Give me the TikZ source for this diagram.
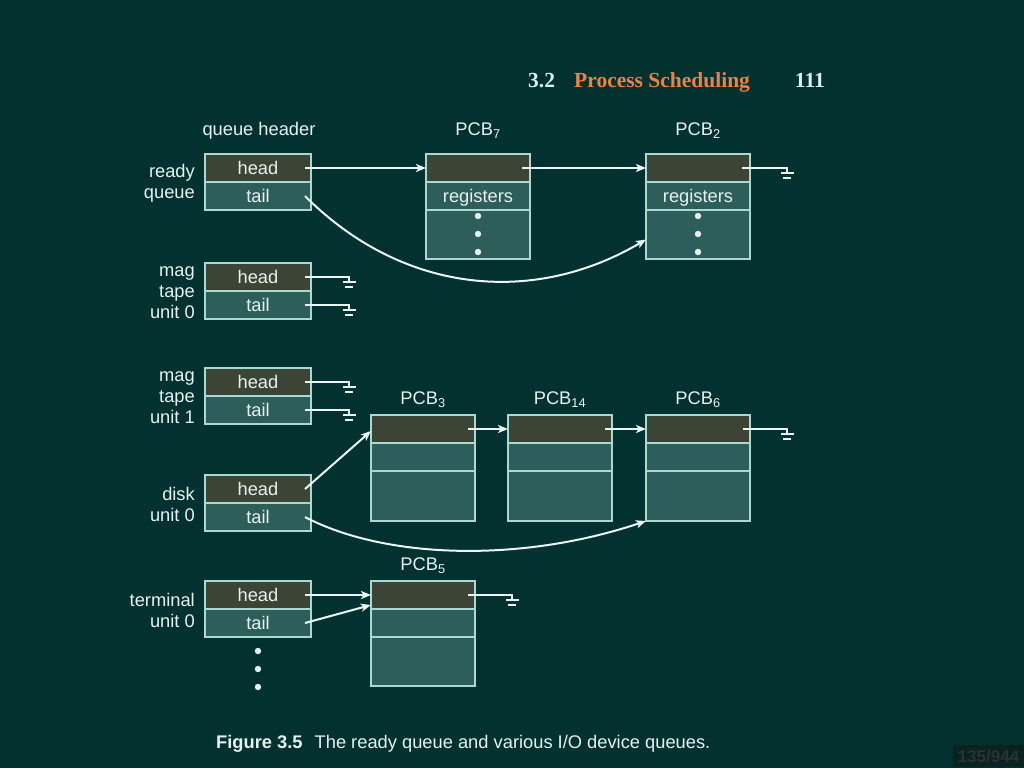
\documentclass[tikz,border=0pt]{standalone}
\usepackage{fontspec}
\setmainfont{Liberation Sans}
\newfontfamily\hdrfont{Liberation Serif}
\usetikzlibrary{arrows.meta,calc}
\definecolor{bgc}{HTML}{02312F}
\definecolor{headc}{HTML}{3C4535}
\definecolor{tailc}{HTML}{2E5E5A}
\definecolor{bordc}{HTML}{A9D9D1}
\definecolor{txtc}{HTML}{E4F2F0}
\definecolor{wirec}{HTML}{E8F6F4}
\definecolor{orangec}{HTML}{F2803E}
\definecolor{hdrtxtc}{HTML}{DDF0EE}
\definecolor{pgboxc}{HTML}{0A2321}
\definecolor{pgtxtc}{HTML}{283432}
\begin{document}
\begin{tikzpicture}[x=1pt,y=-1pt,
  cell/.style={draw=bordc, line width=1.7pt, minimum width=106pt, minimum height=28pt,
    inner sep=0pt, outer sep=0pt, text=txtc, font=\fontsize{18.3}{21}\selectfont, anchor=north west},
  headcell/.style={cell, fill=headc},
  tailcell/.style={cell, fill=tailc},
  pcbhead/.style={headcell, minimum width=104pt},
  pcbrow/.style={tailcell, minimum width=104pt},
  pcbrest/.style={tailcell, minimum width=104pt, minimum height=49pt},
  lbl/.style={text=txtc, font=\fontsize{18.3}{20.8}\selectfont, inner sep=0pt, align=right},
  wire/.style={draw=wirec, line width=2pt},
  link/.style={wire, -{Stealth[length=10pt,width=8pt,inset=2.5pt]}},
  gndline/.style={draw=wirec, line width=2pt},
  ground/.pic={\draw[gndline] (0,-1) -- (0,5) (-6.5,5) -- (6.5,5) (-4,10) -- (4,10);},
  hdr/.style={inner sep=0pt, font=\hdrfont\bfseries\fontsize{21.5}{24}\selectfont},
]
\fill[bgc] (0,0) rectangle (1024,768);

% page header
\node[hdr, text=hdrtxtc, anchor=base west] (sec) at (528,87) {3.2};
\node[hdr, text=orangec, anchor=base west] (title) at (574,87) {Process Scheduling};
\node[hdr, text=hdrtxtc, anchor=base east] (pgno) at (825,87) {111};

% queue headers
\node[headcell] (rqh) at (205,154) {head};
\node[tailcell] (rqt) at (205,182) {tail};
\node[headcell] (m0h) at (205,263) {head};
\node[tailcell] (m0t) at (205,291) {tail};
\node[headcell] (m1h) at (205,368) {head};
\node[tailcell] (m1t) at (205,396) {tail};
\node[headcell] (dh) at (205,475) {head};
\node[tailcell] (dt) at (205,503) {tail};
\node[headcell] (th) at (205,581) {head};
\node[tailcell] (tt) at (205,609) {tail};

\node[lbl] (qhdr) at ($(rqh.north)+(1,-23)$) {queue header};
\node[lbl, anchor=east] (lrq) at ($(rqh.south west)+(-10,1.5)$) {ready\\queue};
\node[lbl, anchor=east] (lm0) at ($(m0h.south west)+(-10,1.5)$) {mag\\tape\\unit 0};
\node[lbl, anchor=east] (lm1) at ($(m1h.south west)+(-10,1.5)$) {mag\\tape\\unit 1};
\node[lbl, anchor=east] (ld) at ($(dh.south west)+(-10,1.5)$) {disk\\unit 0};
\node[lbl, anchor=east] (lt) at ($(th.south west)+(-10,1.5)$) {terminal\\unit 0};

% PCBs
\node[pcbhead] (p7a) at (426,154) {};
\node[pcbrow, text depth=0pt] (p7b) at (426,182) {registers};
\node[pcbrest] (p7c) at (426,210) {};
\node[pcbhead] (p2a) at (646,154) {};
\node[pcbrow, text depth=0pt] (p2b) at (646,182) {registers};
\node[pcbrest] (p2c) at (646,210) {};
\node[pcbhead] (p3a) at (371,415) {};
\node[pcbrow] (p3b) at (371,443) {};
\node[pcbrest, minimum height=50pt] (p3c) at (371,471) {};
\node[pcbhead] (p14a) at (508,415) {};
\node[pcbrow] (p14b) at (508,443) {};
\node[pcbrest, minimum height=50pt] (p14c) at (508,471) {};
\node[pcbhead] (p6a) at (646,415) {};
\node[pcbrow] (p6b) at (646,443) {};
\node[pcbrest, minimum height=50pt] (p6c) at (646,471) {};
\node[pcbhead] (p5a) at (371,581) {};
\node[pcbrow] (p5b) at (371,609) {};
\node[pcbrest] (p5c) at (371,637) {};

\node[lbl] (l7) at ($(p7a.north)+(0,-23)$) {PCB\textsubscript{7}};
\node[lbl] (l2) at ($(p2a.north)+(0,-23)$) {PCB\textsubscript{2}};
\node[lbl] (l3) at ($(p3a.north)+(0,-15)$) {PCB\textsubscript{3}};
\node[lbl] (l14) at ($(p14a.north)+(0,-15)$) {PCB\textsubscript{14}};
\node[lbl] (l6) at ($(p6a.north)+(0,-15)$) {PCB\textsubscript{6}};
\node[lbl] (l5) at ($(p5a.north)+(0,-15)$) {PCB\textsubscript{5}};

% dots
\foreach \n in {p7c,p2c}{
  \fill[txtc] ($(\n.north)+(0,6)$) circle (3.2) ($(\n.north)+(0,24)$) circle (3.2) ($(\n.north)+(0,42)$) circle (3.2);
}
\fill[txtc] ($(tt.south)+(0,14)$) circle (3.2) ($(tt.south)+(0,32)$) circle (3.2) ($(tt.south)+(0,50)$) circle (3.2);

% ground ends
\coordinate (g2) at ($(p2a.east)+(37,0)$);
\coordinate (gm0h) at ($(m0h.east)+(38,0)$);
\coordinate (gm0t) at ($(m0t.east)+(38,0)$);
\coordinate (gm1h) at ($(m1h.east)+(38,0)$);
\coordinate (gm1t) at ($(m1t.east)+(38,0)$);
\coordinate (g6) at ($(p6a.east)+(37,0)$);
\coordinate (g5) at ($(p5a.east)+(37,0)$);

% ready queue
\draw[link] ([xshift=-6pt]rqh.east) -- (p7a.west);
\draw[link] ([xshift=-8pt]p7a.east) -- (p2a.west);
\draw[wire] ([xshift=-8pt]p2a.east) -- (g2) pic {ground};
\draw[link] ([xshift=-6pt]rqt.east) .. controls +(100,100) and +(-110,65) .. ($(p2c.west)+(0,5)$);

% mag tapes
\draw[wire] ([xshift=-6pt]m0h.east) -- (gm0h) pic {ground};
\draw[wire] ([xshift=-6pt]m0t.east) -- (gm0t) pic {ground};
\draw[wire] ([xshift=-6pt]m1h.east) -- (gm1h) pic {ground};
\draw[wire] ([xshift=-6pt]m1t.east) -- (gm1t) pic {ground};

% disk
\draw[link] ([xshift=-6pt]dh.east) -- ($(p3a.west)+(0,2)$);
\draw[link] ([xshift=-7pt]p3a.east) -- (p14a.west);
\draw[link] ([xshift=-7pt]p14a.east) -- (p6a.west);
\draw[wire] ([xshift=-7pt]p6a.east) -- (g6) pic {ground};
\draw[link] ([xshift=-6pt]dt.east) .. controls +(80,42) and +(-125,42) .. (p6c.south west);

% terminal
\draw[link] ([xshift=-6pt]th.east) -- (p5a.west);
\draw[link] ([xshift=-6pt]tt.east) -- ($(p5a.west)+(0,10)$);
\draw[wire] ([xshift=-7pt]p5a.east) -- (g5) pic {ground};

% caption
\node[anchor=base west, inner sep=0pt, text=txtc, font=\fontsize{18.3}{21}\selectfont] (cap) at (216,748)
  {\textbf{Figure 3.5}\hspace{12pt}The ready queue and various I/O device queues.};

% page counter
\fill[pgboxc] (953,745) rectangle (1024,767);
\node[inner sep=0pt, text=pgtxtc, font=\bfseries\fontsize{17}{20}\selectfont] (cnt) at (988.5,756) {135/944};
\end{tikzpicture}
\end{document}
